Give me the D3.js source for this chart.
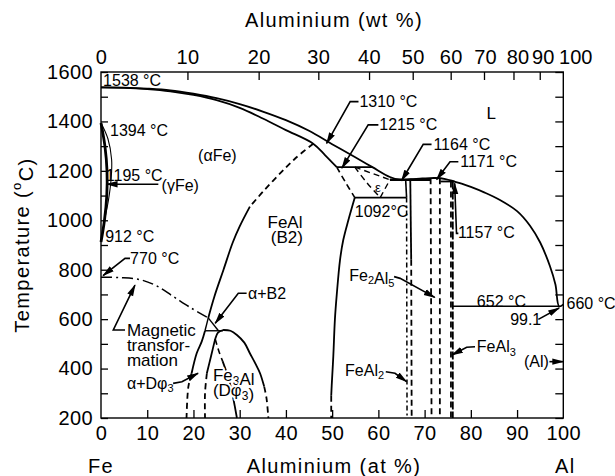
<!DOCTYPE html>
<html><head><meta charset="utf-8">
<script src="https://cdn.jsdelivr.net/npm/d3@7"></script>
<style>
body{margin:0;background:#fff}
svg{display:block;font-family:"Liberation Sans",Arial,Helvetica,sans-serif}
</style></head><body>
<svg id="chart" width="615" height="476"></svg>
<script>
// ---------- axis values ----------
const tempTicks = d3.range(200, 1601, 100);
const tempLabels = [200, 400, 600, 800, 1000, 1200, 1400, 1600];
const atLabels = [0, 10, 20, 30, 40, 50, 60, 70, 80, 90, 100];
const wtLabels = [0, 10, 20, 30, 40, 50, 60, 70, 80, 90, 100];

// ---------- phase boundaries: [at% Al, temperature °C] ----------
const liquidus = [[0,1538],[5,1537],[10,1533],[15,1526],[20,1512],[25,1494],[30,1470],[35,1440],[40,1405],[45,1362],[50,1308],[55,1255],[58.7,1215],[62.5,1175],[64.5,1164],[67,1166],[69.5,1169],[72.3,1171],[74.5,1167],[76.4,1157],[78,1148],[80,1135],[83,1112],[86.3,1082],[90,1037],[92.8,978],[95,910],[97.1,815],[98.3,740],[99.1,652],[100,660]];
const solidus = [[0,1538],[5,1536],[10,1531],[15,1522],[20,1507],[25,1486],[30,1455],[35,1412],[40,1365],[45.9,1310],[48.5,1263],[51,1215]];
const gammaLoop = [[0,1394],[0.85,1300],[1.3,1200],[1.25,1100],[0.75,1000],[0,912]];
const gammaAlpha = [[0,1394],[1.5,1330],[2.3,1245],[2.2,1170],[1.6,1080],[0.75,1000]];
const peritectic1215 = [[51,1215],[58.7,1215]];
const b2EpsBoundary = [[51,1215],[53,1150],[54.9,1092]];
const epsLeft = [[54.9,1215],[57.6,1150],[60.4,1092]];
const epsRight = [[60.4,1092],[62.5,1164]];
const epsTop = [[54.9,1215],[62.5,1164]];
const eutectoid1092 = [[54.9,1092],[66.1,1092]];
const peritectic1164 = [[62.5,1164],[71.2,1164]];
const peritectic1157 = [[73.4,1157],[76.4,1157]];
const eutectic652 = [[75.9,652],[99.1,652]];
const b2AlSide = [[54.9,1092],[53.5,1000],[52.4,920],[51.7,839],[51.0,700],[50.6,600],[50.25,450],[49.9,330],[49.8,290]];
const b2AlSideLow = [[49.8,290],[49.8,200]];
const feal2LeftTop = [[65.9,1164],[66.1,1092]];
const feal2Left = [[66.1,1092],[66.2,200]];
const feal2RightTop = [[66.9,1164],[67.1,840]];
const feal2Right = [[67.1,840],[67.2,200]];
const fe2al5Left = [[71.3,1170],[71.5,200]];
const fe2al5Right = [[73.3,1170],[73.3,200]];
const feal3Left = [[75.7,1157],[75.7,200]];
const feal3Right = [[76.1,1157],[76.1,200]];
const orderHigh = [[45.9,1310],[42,1250],[38.5,1185],[35,1115],[32.2,1055]];
const orderLow = [[32.2,1055],[30,975],[28.5,910],[26.5,800],[24.5,690],[23.2,605]];
const alphaB2Left = [[23.2,605],[22.5,553]];
const alphaB2Right = [[23.2,605],[25.4,553]];
const alphaB2Base = [[22.5,553],[26.4,553]];
const alphaD03 = [[22.5,553],[21.8,510],[20.7,462],[19.6,381]];
const alphaD03Low = [[19.6,381],[18.9,327],[18.5,200]];
const d03Left = [[24.7,520],[23.8,450],[22.9,381]];
const d03LeftLow = [[22.9,381],[22.5,300],[22.5,200]];
const d03Dome = [[26.4,556],[28,553],[29.4,536],[31,505],[32.2,462],[33.4,420],[34.4,381],[35.3,327]];
const d03DomeLow = [[35.3,327],[35.8,280],[36.2,200]];
const d03Peak = [[26.4,556],[25.3,545],[24.7,520]];
const d03InnerHigh = [[24.7,520],[25.5,470],[26.3,430]];
const d03Inner = [[26.3,430],[27.9,340],[29.4,200]];
const magnetic = [[0,770],[4,768],[8.4,760],[12,735],[15.6,692],[19.5,645],[23.2,605]];

// ---------- annotations ----------
const labels = [
  {t:"1538 °C", at:0.45, T:1568, a:"start"},
  {t:"1394 °C", at:1.95, T:1362, a:"start"},
  {t:"1195 °C", at:1.05, T:1183, a:"start"},
  {t:"(γFe)", at:13.1, T:1143, a:"start"},
  {t:"(αFe)", at:21, T:1264, a:"start"},
  {t:"FeAl", at:39.8, T:994, a:"middle", big:true},
  {t:"(B2)", at:40.2, T:932, a:"middle", big:true},
  {t:"912 °C", at:0.9, T:934, a:"start"},
  {t:"770 °C", at:6.3, T:846, a:"start"},
  {t:"Magnetic", at:5.6, T:556, a:"start", big:true},
  {t:"transfor-", at:5.6, T:495, a:"start", big:true},
  {t:"mation", at:5.6, T:435, a:"start", big:true},
  {t:"α+B2", at:31.8, T:705, a:"start"},
  {t:"α+Dφ_3", at:5.6, T:340, a:"start"},
  {t:"Fe_3Al", at:24.2, T:374, a:"start", big:true, halo:true},
  {t:"(Dφ_3)", at:24.2, T:313, a:"start", big:true, halo:true},
  {t:"1310 °C", at:55.9, T:1480, a:"start"},
  {t:"L", at:83.4, T:1433, a:"start", big:true},
  {t:"1215 °C", at:60.2, T:1386, a:"start"},
  {t:"1164 °C", at:71.9, T:1307, a:"start"},
  {t:"1171 °C", at:77.7, T:1237, a:"start"},
  {t:"ε", at:59.9, T:1133, a:"middle", small:true},
  {t:"1092°C", at:54.9, T:1035, a:"start"},
  {t:"1157 °C", at:77.2, T:950, a:"start"},
  {t:"Fe_2Al_5", at:53.7, T:779, a:"start"},
  {t:"652 °C", at:81.3, T:671, a:"start"},
  {t:"660 °C", at:100.7, T:664, a:"start"},
  {t:"99.1", at:88.5, T:599, a:"start"},
  {t:"FeAl_3", at:81.3, T:488, a:"start"},
  {t:"(Al)", at:91.5, T:428, a:"start"},
  {t:"FeAl_2", at:52.8, T:394, a:"start"}
];
const leaders = [
  [[12.4,1146],[1.2,1146]],
  [[6.27,846],[5.2,846],[0.45,776]],
  [[5.2,556],[2.66,556],[7.35,738]],
  [[31.5,705],[29.7,705],[24.7,583]],
  [[15.6,340],[17.5,347],[21.0,381]],
  [[55.7,1480],[53.9,1480],[48.8,1311]],
  [[60.0,1386],[57.8,1386],[52.1,1211]],
  [[71.5,1307],[69.7,1307],[65.0,1160]],
  [[77.3,1237],[75.5,1237],[72.6,1165]],
  [[77.3,947],[76.9,947],[76.5,1150]],
  [[63.4,772],[64.7,765],[72.2,688]],
  [[61.6,387],[63.6,381],[66.1,347]],
  [[80.9,488],[79.1,486],[75.9,455]],
  [[94.6,599],[99.1,645]],
  [[97.0,428],[100,428]]
];

// ---------- layout ----------
const svg = d3.select("#chart");
const x = d3.scaleLinear().domain([0, 100]).range([101, 563.3]);
const y = d3.scaleLinear().domain([200, 1600]).range([418, 72]);
const wtToAt = w => { const a = w / 26.98, f = (100 - w) / 55.845; return 100 * a / (a + f); };

svg.append("defs").append("marker")
  .attr("id", "arrow").attr("viewBox", "0 0 12 8")
  .attr("refX", 11).attr("refY", 4)
  .attr("markerWidth", 12).attr("markerHeight", 8)
  .attr("markerUnits", "userSpaceOnUse").attr("orient", "auto")
  .append("path").attr("d", "M0,0.8 L12,4 L0,7.2 Z").attr("fill", "#000");

const tickFont = "20px";

// left axis
const gL = svg.append("g").attr("transform", `translate(${x(0)},0)`)
  .call(d3.axisLeft(y).tickValues(tempTicks).tickSizeInner(-7).tickSizeOuter(0).tickPadding(8)
    .tickFormat(d => tempLabels.includes(d) ? d : ""));
// right axis
const gR = svg.append("g").attr("transform", `translate(${x(100)},0)`)
  .call(d3.axisRight(y).tickValues(tempTicks).tickSizeInner(-8).tickSizeOuter(0).tickFormat(""));
// bottom axis (at %)
const gB = svg.append("g").attr("transform", `translate(0,${y(200)})`)
  .call(d3.axisBottom(x).tickValues(atLabels).tickSizeInner(-8).tickSizeOuter(0).tickPadding(8));
// top axis (wt %)
const gT = svg.append("g").attr("transform", `translate(0,${y(1600)})`)
  .call(d3.axisTop(x).tickValues(wtLabels.map(wtToAt)).tickSizeInner(-8).tickSizeOuter(0).tickPadding(8)
    .tickFormat((d, i) => wtLabels[i]));
[gL, gR, gB, gT].forEach(g => {
  g.select(".domain").remove();
  g.selectAll("text").attr("font-size", tickFont).attr("fill", "#000")
    .attr("letter-spacing", "0.4px")
    .attr("font-family", "Liberation Sans, Arial, sans-serif");
  g.selectAll("line").attr("stroke", "#000").attr("stroke-width", 1.3);
});
gT.selectAll(".tick").filter((d, i) => i === 0 || i === wtLabels.length - 1).select("line").remove();
gB.selectAll(".tick").filter((d, i) => i === 0 || i === atLabels.length - 1).select("line").remove();
// the crowded wt% labels near 100 are nudged right
const topShift = [0, 0, 0, 0, 0, 0, 0, 1, 4, 3, 12];
gT.selectAll(".tick text").attr("dx", (d, i) => topShift[i]);
gT.selectAll(".tick").filter((d, i) => i >= 7).select("text").attr("letter-spacing", "0px");

// frame
svg.append("rect").attr("x", x(0)).attr("y", y(1600))
  .attr("width", x(100) - x(0)).attr("height", y(200) - y(1600))
  .attr("fill", "none").attr("stroke", "#000").attr("stroke-width", 1.4);

// axis titles
const title = (tx, ty, s) => svg.append("text").attr("x", tx).attr("y", ty).attr("dy", "0.35em")
  .attr("text-anchor", "middle").attr("font-size", tickFont).attr("letter-spacing", "1.4px").text(s);
title(334, 20, "Aluminium (wt %)");
title(334, 466, "Aluminium (at %)");
title(x(0), 466, "Fe");
title(x(100) + 2, 466, "Al");
const yt = svg.append("text").attr("transform", "translate(22,245) rotate(-90)")
  .attr("text-anchor", "middle").attr("dy", "0.35em").attr("font-size", tickFont)
  .attr("letter-spacing", "1.4px");
yt.append("tspan").text("Temperature (");
yt.append("tspan").attr("font-size", "13px").attr("dy", "-0.6em").text("o");
yt.append("tspan").attr("dy", "0.6em").text("C)");

// boundaries
const line = d3.line().x(d => x(d[0])).y(d => y(d[1])).curve(d3.curveCatmullRom.alpha(0.5));
const solid = null, dash = "6,4", dashdot = "11,4,2,4";
const curves = [
  [liquidus, solid, 1.8], [solidus, solid, 1.8],
  [gammaLoop, solid, 2.8], [gammaAlpha, solid, 1.1],
  [peritectic1215, solid, 1.6], [b2EpsBoundary, dash, 1.6], [epsLeft, dash, 1.4],
  [epsRight, dash, 1.4], [epsTop, dash, 1.4], [eutectoid1092, solid, 1.8],
  [peritectic1164, solid, 2.6], [peritectic1157, solid, 1.8], [eutectic652, solid, 1.4],
  [b2AlSide, solid, 1.8], [b2AlSideLow, dash, 1.8],
  [feal2LeftTop, solid, 1.6], [feal2Left, "5,3,2,3", 1.5], [feal2RightTop, solid, 1.8], [feal2Right, dash, 1.8],
  [fe2al5Left, dash, 1.8], [fe2al5Right, dash, 1.8], [feal3Left, dash, 1.8], [feal3Right, "8,2", 1.8],
  [orderHigh, dash, 1.8], [orderLow, solid, 1.8],
  [alphaB2Left, solid, 1.4], [alphaB2Right, solid, 1.4], [alphaB2Base, solid, 1.4],
  [alphaD03, solid, 1.8], [alphaD03Low, dash, 1.8],
  [d03Left, solid, 1.8], [d03LeftLow, dash, 1.8],
  [d03Dome, solid, 1.8], [d03DomeLow, dash, 1.8], [d03Peak, solid, 1.8],
  [d03InnerHigh, dash, 1.6], [d03Inner, solid, 1.8],
  [magnetic, dashdot, 1.5]
];
svg.append("g").selectAll("path").data(curves).join("path")
  .attr("d", d => line(d[0])).attr("fill", "none").attr("stroke", "#000")
  .attr("stroke-width", d => d[2]).attr("stroke-dasharray", d => d[1]);

// leader lines with arrowheads
const straight = d3.line().x(d => x(d[0])).y(d => y(d[1]));
svg.append("g").selectAll("path").data(leaders).join("path")
  .attr("d", straight).attr("fill", "none").attr("stroke", "#000")
  .attr("stroke-width", 1.6).attr("marker-end", "url(#arrow)");

// labels with simple subscript markup ("_x")
const gLab = svg.append("g");
labels.forEach(l => {
  const size = l.big ? 17 : (l.small ? 13 : 16);
  const el = gLab.append("text").attr("x", x(l.at)).attr("y", y(l.T)).attr("dy", "0.35em")
    .attr("text-anchor", l.a).attr("font-size", size + "px");
  if (l.halo) el.attr("stroke", "#fff").attr("stroke-width", 4).attr("paint-order", "stroke")
    .attr("stroke-linejoin", "round");
  const parts = l.t.split(/(_.)/).filter(s => s.length);
  parts.forEach(p => {
    if (p[0] === "_") {
      el.append("tspan").attr("font-size", Math.round(size * 0.7) + "px").attr("dy", "0.3em").text(p[1]);
      el.append("tspan").attr("dy", "-0.3em").text("");
    } else {
      el.append("tspan").text(p);
    }
  });
});
</script>
</body></html>
